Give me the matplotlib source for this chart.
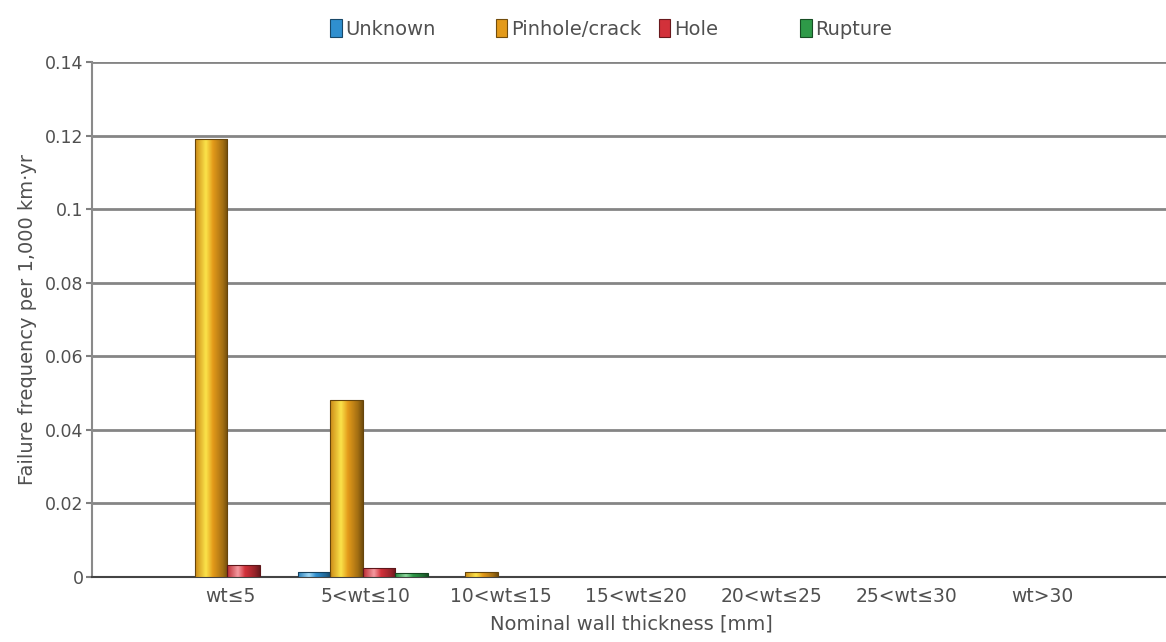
import numpy as np
import matplotlib
matplotlib.use("Agg")
import matplotlib.pyplot as plt
from matplotlib.colors import LinearSegmentedColormap, to_rgb
from matplotlib.patches import Patch

categories = ["wt≤5", "5<wt≤10", "10<wt≤15", "15<wt≤20", "20<wt≤25", "25<wt≤30", "wt>30"]
series_names = ["Unknown", "Pinhole/crack", "Hole", "Rupture"]
unknown = [0.0, 0.0014, 0.0, 0.0, 0.0, 0.0, 0.0]
pinhole = [0.119, 0.0480, 0.0013, 0.0, 0.0, 0.0, 0.0]
hole = [0.0033, 0.0025, 0.0, 0.0, 0.0, 0.0, 0.0]
rupture = [0.0, 0.0010, 0.0, 0.0, 0.0, 0.0, 0.0]
yticks = [0, 0.02, 0.04, 0.06, 0.08, 0.1, 0.12, 0.14]
ytick_labels = ["0", "0.02", "0.04", "0.06", "0.08", "0.1", "0.12", "0.14"]

colors = ["#2f8fcf", "#e39a1a", "#d2313a", "#2e9a48"]
highlights = ["#9fd8f5", "#fbe34a", "#f49aa0", "#8fd89f"]
series = [unknown, pinhole, hole, rupture]
txt = "#505050"

plt.rcParams['font.family'] = ['DejaVu Sans']
fig = plt.figure(figsize=(11.66, 6.42), dpi=100)
ax = fig.add_axes([0.0789, 0.1012, 0.925, 0.8022])

def shade_cmap(c, hl):
    r = np.array(to_rgb(c))
    return LinearSegmentedColormap.from_list("s", [(0, r * 0.9), (0.33, to_rgb(hl)), (0.55, r),
                                                   (0.85, r * 0.72), (1.0, r * 0.5)])

x = np.arange(len(categories))
w = 0.24
offsets = [-1.5 * w, -0.5 * w, 0.5 * w, 1.5 * w]
grad = np.linspace(0, 1, 64).reshape(1, -1)
for vals, c, hl, off, name in zip(series, colors, highlights, offsets, series_names):
    bars = ax.bar(x + off - 0.02, vals, width=w, color=c, edgecolor="none", zorder=3, label=name)
    cm = shade_cmap(c, hl)
    for b in bars:
        if b.get_height() <= 0:
            continue
        x0, y0 = b.get_x(), b.get_y()
        im = ax.imshow(grad, cmap=cm, aspect="auto", interpolation="bilinear",
                       extent=[x0, x0 + b.get_width(), y0, y0 + b.get_height()], zorder=4)
        im.set_clip_path(b)
        ax.add_patch(plt.Rectangle((x0, y0), b.get_width(), b.get_height(), fill=False,
                                   edgecolor=np.array(to_rgb(c)) * 0.45, lw=0.8, zorder=5))

ax.set_xlim(-1.02, 6.95)
ax.set_ylim(0, 0.14)
ax.set_yticks(yticks)
ax.set_yticklabels(ytick_labels, fontsize=12.5, color=txt)
ax.set_xticks(x)
ax.set_xticklabels(categories, fontsize=13.5, color=txt)
ax.tick_params(axis="x", length=0, pad=7)
ax.tick_params(axis="y", length=4, width=1.5, color="#808080", pad=2)
ax.grid(axis="y", color="#858585", linewidth=2.0, zorder=1)
ax.set_axisbelow(True)
for s in ["top", "right"]:
    ax.spines[s].set_visible(False)
ax.spines["left"].set_color("#8a8a8a")
ax.spines["left"].set_linewidth(1.5)
ax.spines["bottom"].set_color("#444444")
ax.spines["bottom"].set_linewidth(1.5)

ax.set_ylabel("Failure frequency per 1,000 km·yr", fontsize=14, color=txt, labelpad=6)
ax.set_xlabel("Nominal wall thickness [mm]", fontsize=14, color=txt, labelpad=6)

leg_x = [0.283, 0.425, 0.565, 0.686]
for c, l, lx in zip(colors, series_names, leg_x):
    h = Patch(facecolor=c, edgecolor=np.array(to_rgb(c)) * 0.5, linewidth=0.8)
    lg = fig.legend([h], [l], loc="center left", bbox_to_anchor=(lx, 0.955), frameon=False,
                    fontsize=14, handlelength=0.6, handleheight=1.0, handletextpad=0.2,
                    borderaxespad=0, borderpad=0)
    for t in lg.get_texts():
        t.set_color(txt)

fig.savefig("out.png", dpi=100)
